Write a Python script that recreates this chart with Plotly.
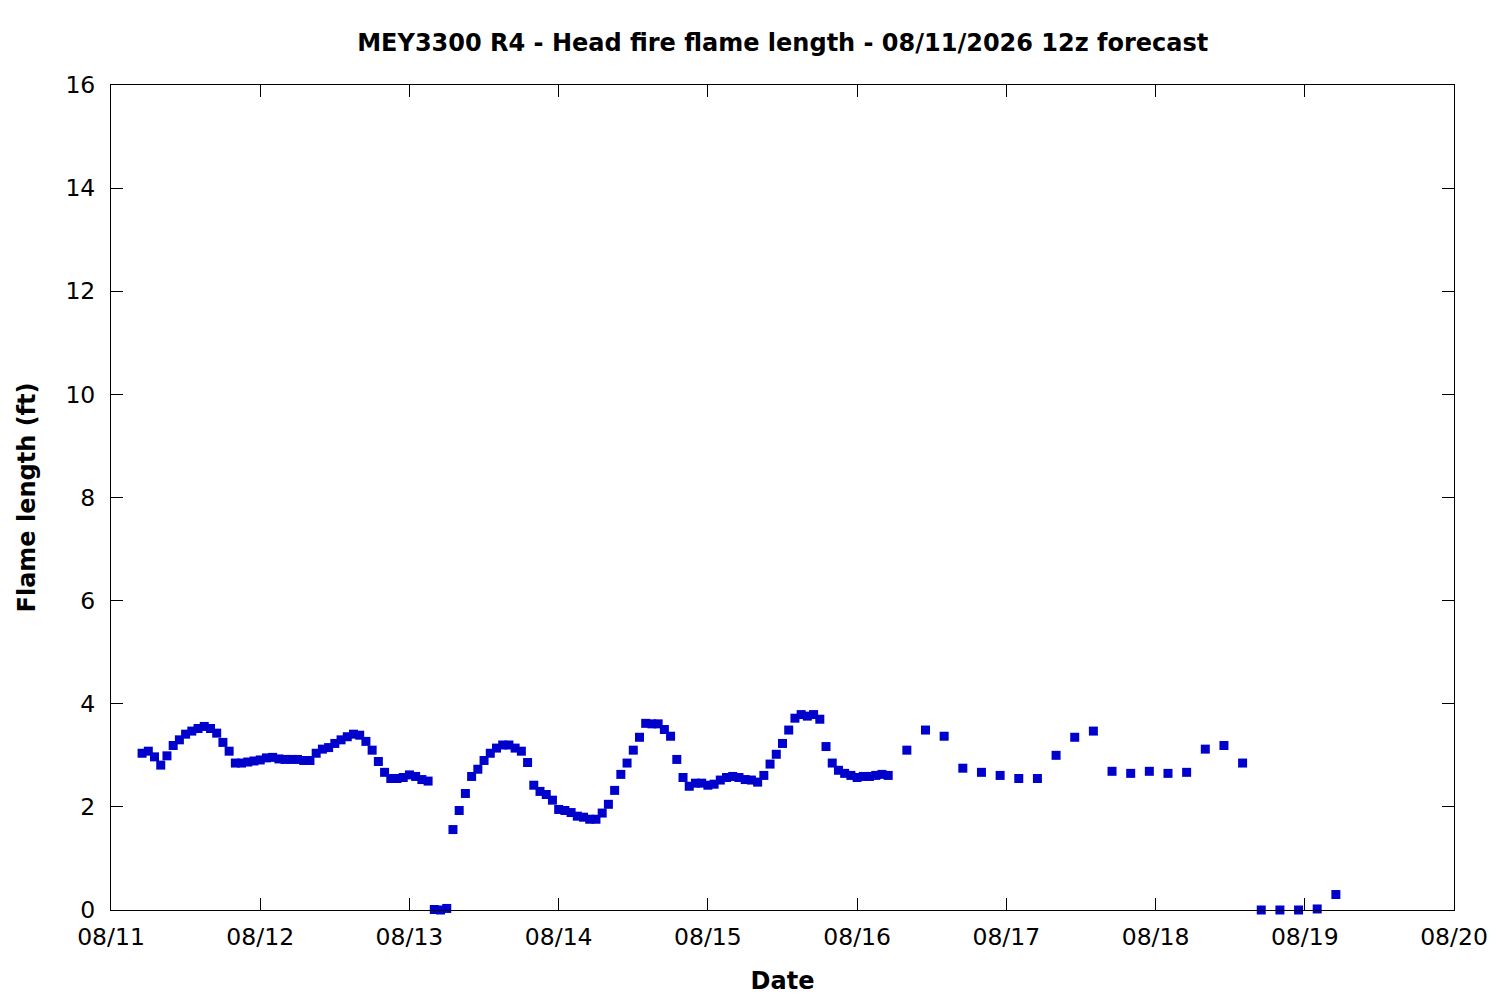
import pandas as pd
import plotly.graph_objects as go

# forecast run start, all times UTC
run_day = '2026-08-11'

# hourly output, 08/11 05z .. 08/16 05z
hourly_len = [
    3.04, 3.08, 2.97, 2.81, 2.99, 3.19, 3.30, 3.41, 3.47, 3.52,
    3.56, 3.52, 3.43, 3.25, 3.08, 2.85, 2.85, 2.87, 2.89, 2.91,
    2.95, 2.96, 2.93, 2.92, 2.92, 2.92, 2.90, 2.90, 3.04, 3.12,
    3.15, 3.23, 3.30, 3.36, 3.41, 3.39, 3.27, 3.10, 2.88, 2.67,
    2.55, 2.55, 2.57, 2.62, 2.59, 2.53, 2.50,
    0.01, 0.00, 0.03, 1.56, 1.93, 2.26, 2.59, 2.73, 2.90, 3.04,
    3.14, 3.20, 3.20, 3.14, 3.08, 2.86, 2.42, 2.30, 2.24, 2.13,
    1.95, 1.93, 1.89, 1.82, 1.80, 1.76, 1.76, 1.88, 2.05, 2.32,
    2.63, 2.85, 3.10, 3.35, 3.62, 3.61, 3.61, 3.50, 3.37, 2.92,
    2.57, 2.40, 2.46, 2.46, 2.42, 2.44, 2.52, 2.57, 2.59, 2.57,
    2.53, 2.52, 2.48, 2.61, 2.83, 3.02, 3.23, 3.49, 3.72, 3.79,
    3.76, 3.79, 3.70, 3.17, 2.85, 2.71, 2.65, 2.61, 2.57, 2.59,
    2.59, 2.61, 2.63, 2.61,
]
# 3-hourly output, 08/16 08z .. 08/19 05z
three_hr_len = [
    3.10, 3.49, 3.37, 2.75, 2.67, 2.61, 2.55, 2.55, 3.00, 3.35,
    3.47, 2.69, 2.65, 2.69, 2.65, 2.67, 3.12, 3.19, 2.85, 0.00,
    0.00, 0.00, 0.02, 0.30,
]

hourly_t = pd.date_range('2026-08-11 05:00', periods=len(hourly_len), freq='h')
three_hr_t = pd.date_range('2026-08-16 08:00', periods=len(three_hr_len), freq='3h')

times = list(hourly_t) + list(three_hr_t)
flame = hourly_len + three_hr_len

fig = go.Figure(go.Scatter(
    x=times, y=flame,
    mode='markers',
    marker=dict(symbol='square', size=9, color='#0000cc'),
    cliponaxis=False,
    showlegend=False,
))

axis_style = dict(
    showline=True, linecolor='black', linewidth=1, mirror='ticks',
    ticks='inside', ticklen=12, tickcolor='black', tickwidth=1,
    showgrid=False, zeroline=False,
    tickfont=dict(family='DejaVu Sans', size=23.5, color='black'),
)

# page body adds 8px, margins are trimmed to match
fig.update_layout(
    width=1500, height=1000,
    margin={'l': 103, 'r': 54, 't': 77, 'b': 98},
    plot_bgcolor='white', paper_bgcolor='white',
    font=dict(family='DejaVu Sans', color='black'),
    title=dict(
        text='<b>MEY3300 R4 - Head fire flame length - 08/11/2026 12z forecast</b>',
        x=0.5165, xanchor='center', y=0.965, yanchor='middle',
        font=dict(family='DejaVu Sans', size=24, color='black'),
    ),
)
fig.update_xaxes(
    axis_style, type='date',
    range=[run_day, '2026-08-20'],
    dtick=86400000, tickformat='%m/%d', ticklabelstandoff=6,
    title=dict(text='<b>Date</b>', font=dict(family='DejaVu Sans', size=24), standoff=21),
)
fig.update_yaxes(
    axis_style, range=[0, 16], dtick=2, ticklabelstandoff=10,
    title=dict(text='<b>Flame length (ft)</b>', font=dict(family='DejaVu Sans', size=24), standoff=22),
)

fig.write_html('out.html')
